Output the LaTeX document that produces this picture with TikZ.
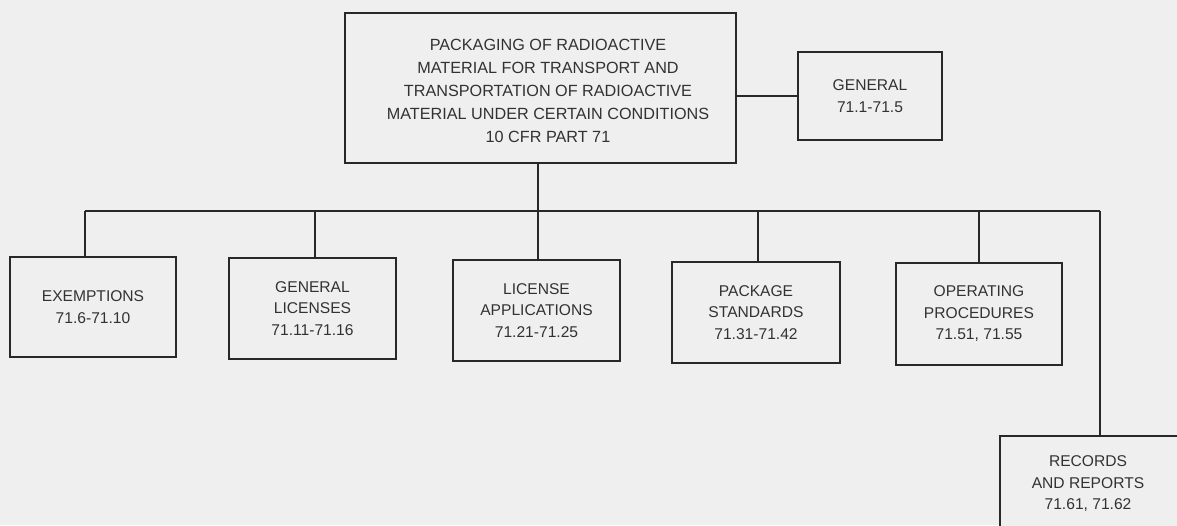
\documentclass[tikz,border=0pt]{standalone}
\usepackage{fontspec}
\setmainfont{Liberation Sans}
\definecolor{bg}{RGB}{239,239,239}
\definecolor{ink}{RGB}{50,50,50}
\definecolor{wire}{RGB}{40,40,40}
\begin{document}
\begin{tikzpicture}[x=1pt,y=-1pt,
  box/.style={draw=wire, line width=1.1pt, fill=bg, rectangle, inner sep=0pt, align=center, text=ink},
  bigtext/.style={font=\fontsize{16.2}{23}\selectfont},
  smalltext/.style={font=\fontsize{15.6}{21.5}\selectfont},
  wireline/.style={draw=wire, line width=1.5pt}]
\fill[bg] (0,0) rectangle (1177,525);
\useasboundingbox (0,0) rectangle (1177,525);
\begin{scope}
\clip (0,0) rectangle (1177,525);
\node[box, bigtext, minimum width=391pt, minimum height=150pt] (main) at (540.5,88) {};
\node[bigtext, text=ink, align=center] (maintext) at (548,91)
  {PACKAGING OF RADIOACTIVE\\MATERIAL FOR TRANSPORT AND\\TRANSPORTATION OF RADIOACTIVE\\MATERIAL UNDER CERTAIN CONDITIONS\\10 CFR PART 71};
\node[box, smalltext, minimum width=144pt, minimum height=88pt] (general) at (870,96)
  {GENERAL\\71.1-71.5};
\node[box, smalltext, minimum width=166pt, minimum height=100pt] (exempt) at (93,307)
  {EXEMPTIONS\\71.6-71.10};
\node[box, smalltext, minimum width=167pt, minimum height=101pt] (genlic) at (312.5,308.5)
  {GENERAL\\LICENSES\\71.11-71.16};
\node[box, smalltext, minimum width=167pt, minimum height=101pt] (licapp) at (536.5,310.5)
  {LICENSE\\APPLICATIONS\\71.21-71.25};
\node[box, smalltext, minimum width=168pt, minimum height=101pt] (pkg) at (756,312.5)
  {PACKAGE\\STANDARDS\\71.31-71.42};
\node[box, smalltext, minimum width=166pt, minimum height=102pt] (oper) at (979,314)
  {OPERATING\\PROCEDURES\\71.51, 71.55};
\node[box, smalltext, minimum width=190pt, minimum height=104pt] (records) at (1095,488) {};
\node[smalltext, text=ink, align=center] (recordstext) at (1088,484)
  {RECORDS\\AND REPORTS\\71.61, 71.62};
\coordinate (busL) at (85,211);
\coordinate (busR) at (1100,211);
\coordinate (busM) at (538,211);
\draw[wireline] (main.east |- general.west) -- (general.west);
\draw[wireline] (main.south -| busM) -- (busM);
\draw[wireline] (busL) -- (busR);
\draw[wireline] (busL) -- (busL |- exempt.north);
\draw[wireline] (genlic.north) ++(2.5,0) coordinate (g1) -- (g1 |- busL);
\draw[wireline] (busM) -- (busM |- licapp.north);
\draw[wireline] (pkg.north) ++(2,0) coordinate (p1) -- (p1 |- busL);
\draw[wireline] (oper.north) -- (oper.north |- busL);
\draw[wireline] (busR) -- (busR |- records.north);
\end{scope}
\end{tikzpicture}
\end{document}
